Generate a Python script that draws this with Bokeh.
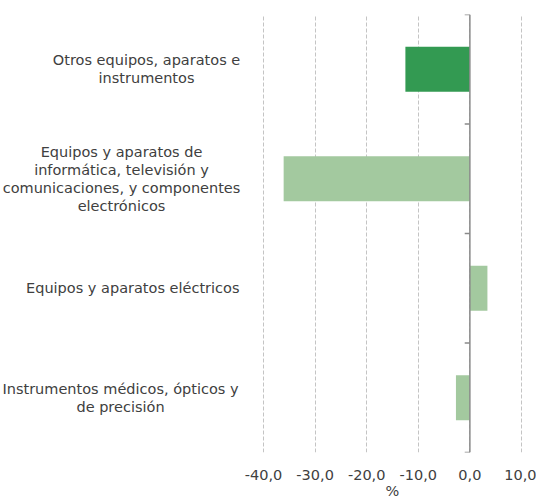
from bokeh.plotting import figure
from bokeh.layouts import row
from bokeh.models import Range1d, FixedTicker, Span, ColumnDataSource
from bokeh.embed import file_html
from bokeh.resources import INLINE

categories = [
    "Otros equipos, aparatos e\ninstrumentos",
    "Equipos y aparatos de\ninformática, televisión y\ncomunicaciones, y componentes\nelectrónicos",
    "Equipos y aparatos eléctricos",
    "Instrumentos médicos, ópticos y\nde precisión",
]
values = [-12.5, -36.1, 3.4, -2.7]
colors = ["#339a52", "#a3c99f", "#a3c99f", "#a3c99f"]
x_ticks = [-40, -30, -20, -10, 0, 10]
x_tick_labels = ["-40,0", "-30,0", "-20,0", "-10,0", "0,0", "10,0"]

# layout of the category label blocks (px inside the label panel)
label_x = [146, 121, 239, 120]
label_align = ["center", "center", "right", "center"]

n = len(categories)
ypos = [n - i - 0.5 for i in range(n)]
bounds = [float(b) for b in range(n + 1)]

FONT = "DejaVu Sans"
FS = "14.5px"
TXT = "#404040"
LEFT_W = 243
GAP = 19
H = 502
TOP, BOTTOM = 14, 50

yr = Range1d(0, n)

# left panel: category labels
pl = figure(width=LEFT_W, height=H, output_backend="svg", toolbar_location=None,
            x_range=Range1d(0, LEFT_W), y_range=yr, x_axis_location=None, y_axis_location=None,
            min_border_left=0, min_border_right=0, min_border_top=TOP, min_border_bottom=BOTTOM)
pl.outline_line_color = None
pl.grid.visible = False
lsrc = ColumnDataSource(dict(x=label_x, y=ypos, text=categories, align=label_align))
pl.text(x="x", y="y", text="text", text_align="align", text_baseline="middle", source=lsrc,
        text_font={"value": FONT}, text_font_size=FS, text_color=TXT, text_line_height=1.13)

# right panel: bars
p = figure(width=536 - LEFT_W, height=H, output_backend="svg", toolbar_location=None,
           x_range=Range1d(-40.2, 10.2), y_range=yr, y_axis_location=None,
           min_border_left=GAP, min_border_right=14, min_border_top=TOP, min_border_bottom=BOTTOM)
p.outline_line_color = None

src = ColumnDataSource(dict(y=ypos, right=values, color=colors))
p.hbar(y="y", left=0, right="right", height=0.41, fill_color="color", line_color=None, source=src)

# vertical axis line at zero with tick marks at category boundaries
p.add_layout(Span(location=0, dimension="height", line_color="#8a8a8a", line_width=1.5))
p.segment(x0=[-1.0] * len(bounds), x1=[0] * len(bounds), y0=bounds, y1=bounds,
          line_color="#8a8a8a", line_width=1.5)

# grid
p.ygrid.grid_line_color = None
p.xgrid.ticker = FixedTicker(ticks=x_ticks)
p.xgrid.grid_line_color = "#c4c4c4"
p.xgrid.grid_line_dash = "4 2"
p.xgrid.grid_line_width = 1

# x axis
p.xaxis.ticker = FixedTicker(ticks=x_ticks)
p.xaxis.major_label_overrides = {t: l for t, l in zip(x_ticks, x_tick_labels)}
p.xaxis.axis_line_color = None
p.xaxis.major_tick_line_color = None
p.xaxis.minor_tick_line_color = None
p.xaxis.major_label_text_font = FONT
p.xaxis.major_label_text_font_size = FS
p.xaxis.major_label_text_color = TXT
p.xaxis.major_label_standoff = 11
p.xaxis.axis_label = "%"
p.xaxis.axis_label_text_font = FONT
p.xaxis.axis_label_text_font_size = FS
p.xaxis.axis_label_text_font_style = "normal"
p.xaxis.axis_label_text_color = TXT
p.xaxis.axis_label_standoff = 0

layout = row(pl, p, spacing=0)
open("out.html", "w").write(file_html(layout, INLINE))
